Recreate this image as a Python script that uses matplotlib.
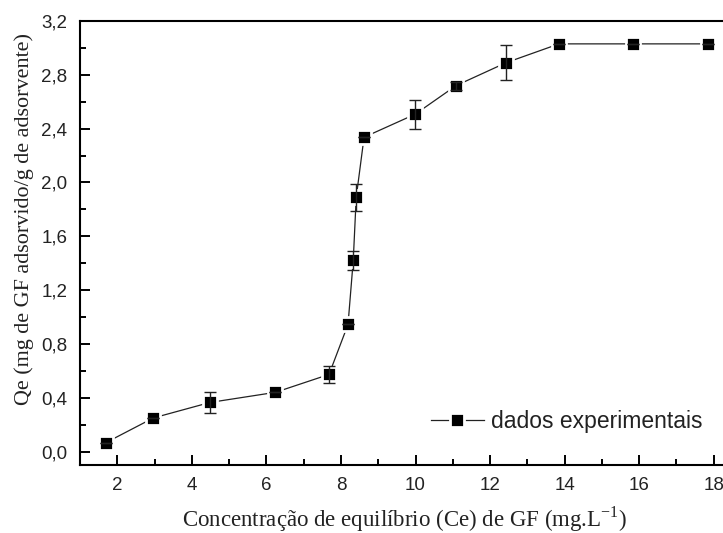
import numpy as np
import matplotlib
matplotlib.use('Agg')
import matplotlib.pyplot as plt
from matplotlib.ticker import MultipleLocator, FuncFormatter

plt.rcParams['mathtext.fontset'] = 'custom'
plt.rcParams['mathtext.rm'] = 'Liberation Serif'

# isoterma de adsorcao do GF
ce = [1.70, 2.97, 4.49, 6.24, 7.68, 8.19, 8.33, 8.41, 8.62, 9.99, 11.09, 12.43, 13.85, 15.83, 17.84]
qe = [0.067, 0.25, 0.365, 0.44, 0.573, 0.945, 1.42, 1.89, 2.336, 2.507, 2.72, 2.89, 3.03, 3.03, 3.03]
qe_err = [0.0, 0.0, 0.078, 0.0, 0.06, 0.0, 0.067, 0.10, 0.0, 0.108, 0.03, 0.13, 0.0, 0.0, 0.0]

def virgula(v, pos):
    return ('%.1f' % v).replace('.', ',')

def main():
    fig = plt.figure(figsize=(7.23, 5.33), dpi=100)
    ax = fig.add_axes([80/723, 68/533, 671/723, 444/533])

    ax.plot(ce, qe, '-s', color='#222222', lw=0.9, ms=10.2,
            mfc='black', mec='white', mew=2.0, label='dados experimentais', zorder=2)
    ax.errorbar(ce, qe, yerr=qe_err, fmt='none', ecolor='#222222',
                elinewidth=1.0, capsize=4.5, capthick=1.0, zorder=3)

    ax.set_xlim(1.0, 19.0)
    ax.set_ylim(-0.1, 3.2)
    ax.xaxis.set_major_locator(MultipleLocator(2))
    ax.xaxis.set_minor_locator(MultipleLocator(1))
    ax.yaxis.set_major_locator(MultipleLocator(0.4))
    ax.yaxis.set_minor_locator(MultipleLocator(0.2))
    ax.yaxis.set_major_formatter(FuncFormatter(virgula))

    ax.tick_params(which='both', direction='in', width=1.4, colors='black',
                   labelcolor='#222222', labelsize=13.5, pad=9)
    ax.tick_params(which='major', length=7)
    ax.tick_params(which='minor', length=4)
    for lbl in ax.get_xticklabels() + ax.get_yticklabels():
        lbl.set_family('Liberation Sans')
    for s in ['left', 'bottom', 'top']:
        ax.spines[s].set_linewidth(1.5)
    ax.spines['right'].set_visible(False)

    ax.set_xlabel(r'Concentração de equilíbrio (Ce) de GF (mg.L$^{\mathrm{-1}}$)',
                  family='Liberation Serif', fontsize=16.5, color='#222222', labelpad=7)
    ax.xaxis.label.set_x(0.484)
    ax.set_ylabel('Qe (mg de GF adsorvido/g de adsorvente)',
                  family='Liberation Serif', fontsize=15.9, color='#222222', labelpad=5)
    ax.yaxis.label.set_y(0.554)

    leg = ax.legend(loc='lower right', bbox_to_anchor=(0.958, 0.025), frameon=False,
                    prop={'family': 'Liberation Sans', 'size': 16.5},
                    handlelength=2.3, handletextpad=0.3)
    for t in leg.get_texts():
        t.set_color('#222222')

    fig.savefig('out.png', dpi=100)

if __name__ == '__main__':
    main()
